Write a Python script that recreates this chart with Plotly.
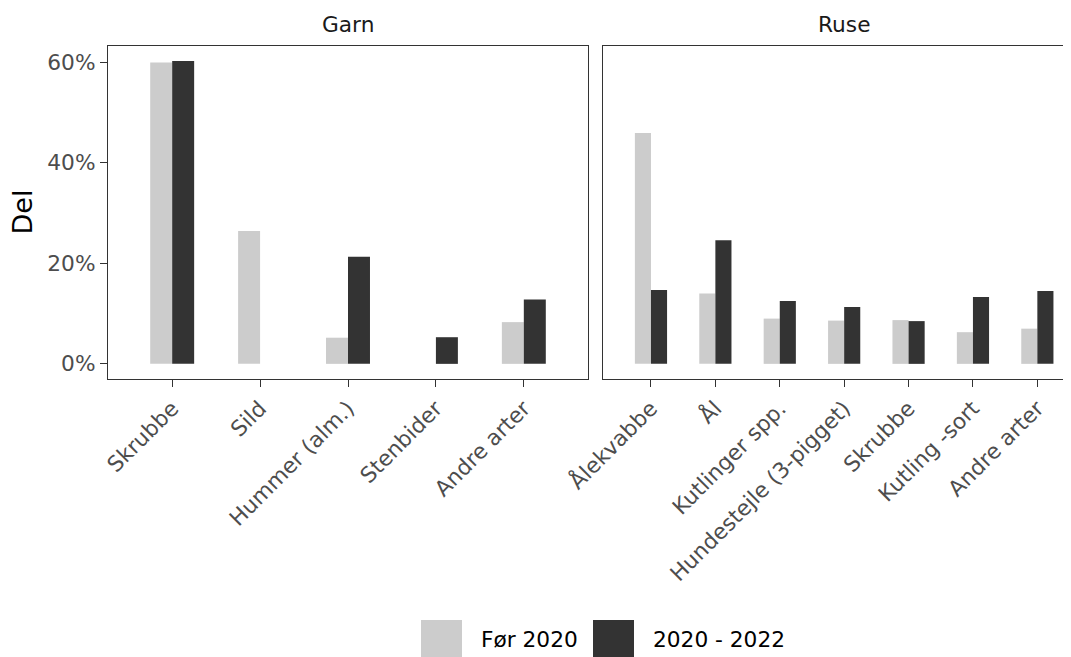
import plotly.graph_objects as go

OFF = 8  # page body margin
RIGHT = 1100  # screen x where the figure ends (the reference is cropped at 1071)
W, H = RIGHT - OFF, 657 - OFF

# ---- data ----
garn_cats = ["Skrubbe", "Sild", "Hummer (alm.)", "Stenbider", "Andre arter"]
garn_before = [0.599, 0.264, 0.052, None, 0.083]
garn_after = [0.602, None, 0.213, 0.053, 0.128]

ruse_cats = ["Ålekvabbe", "Ål", "Kutlinger spp.", "Hundestejle (3-pigget)",
             "Skrubbe", "Kutling -sort", "Andre arter"]
ruse_before = [0.459, 0.140, 0.090, 0.086, 0.087, 0.063, 0.070]
ruse_after = [0.147, 0.246, 0.125, 0.113, 0.085, 0.133, 0.145]

series_names = ["Før 2020", "2020 - 2022"]
facet_names = ["Garn", "Ruse"]
colors = ["#CCCCCC", "#333333"]

FONT = "DejaVu Sans"
SMALL = 21.7
BASE = 27

fig = go.Figure()

def add_bars(cats, before, after, xa, ya):
    for vals, name, col, off in [(before, series_names[0], colors[0], -0.25),
                                 (after, series_names[1], colors[1], 0.0)]:
        fig.add_trace(go.Bar(
            x=cats, y=vals, name=name, xaxis=xa, yaxis=ya,
            marker=dict(color=col, line=dict(width=0)),
            width=0.25, offset=off, showlegend=False,
        ))

add_bars(garn_cats, garn_before, garn_after, "x", "y")
add_bars(ruse_cats, ruse_before, ruse_after, "x2", "y2")

def px_x(p):
    return (p - OFF) / W

def px_y(p):
    return 1 - (p - OFF) / H

line_col = "#333333"
common_x = dict(type="category", showgrid=False, zeroline=False, showline=True,
                linecolor=line_col, linewidth=1.3, ticks="outside", ticklen=7,
                tickwidth=1.3, tickcolor=line_col, tickangle=-45,
                tickfont=dict(family=FONT, size=SMALL, color="#4D4D4D"),
                automargin=False, fixedrange=True)

yr = [-0.0301, 0.632]
fig.update_layout(
    width=W, height=H,
    margin=dict(l=0, r=0, t=0, b=0),
    paper_bgcolor="white", plot_bgcolor="white",
    barmode="overlay",
    xaxis=dict(common_x, domain=[px_x(108), px_x(588)], range=[-0.73, 4.73],
               mirror=True, anchor="y"),
    xaxis2=dict(common_x, domain=[px_x(603), px_x(1085)], range=[-0.745, 6.74],
                mirror=True, anchor="y2"),
    yaxis=dict(domain=[px_y(379), px_y(46)], range=yr, showgrid=False,
               zeroline=False, showline=True, mirror=True, linecolor=line_col,
               linewidth=1.3, ticks="outside", ticklen=7, tickwidth=1.3,
               tickcolor=line_col, tickvals=[0, 0.2, 0.4, 0.6],
               tickformat=".0%",
               tickfont=dict(family=FONT, size=SMALL, color="#4D4D4D"),
               automargin=False, anchor="x"),
    yaxis2=dict(domain=[px_y(379), px_y(46)], range=yr, showgrid=False,
                zeroline=False, showline=True, mirror=True,
                linecolor=line_col, linewidth=1.3, showticklabels=False,
                ticks="", anchor="x2", matches="y"),
    font=dict(family=FONT),
)

ann = []
# strip labels
ann.append(dict(text=facet_names[0], x=px_x(348), y=px_y(25), xref="paper", yref="paper",
                showarrow=False, font=dict(family=FONT, size=SMALL, color="#1A1A1A"),
                xanchor="center", yanchor="middle"))
ann.append(dict(text=facet_names[1], x=px_x(844), y=px_y(25), xref="paper", yref="paper",
                showarrow=False, font=dict(family=FONT, size=SMALL, color="#1A1A1A"),
                xanchor="center", yanchor="middle"))
# y title
ann.append(dict(text="Del", x=px_x(21.5), y=px_y(212), xref="paper", yref="paper",
                showarrow=False, textangle=-90,
                font=dict(family=FONT, size=BASE, color="black"),
                xanchor="center", yanchor="middle"))

# manual legend
shapes = []
leg = [(421, 462, 479, series_names[0], colors[0]),
       (593, 634, 651, series_names[1], colors[1])]
for x0, x1, tx, name, col in leg:
    shapes.append(dict(type="rect", xref="paper", yref="paper",
                       x0=px_x(x0), x1=px_x(x1), y0=0, y1=px_y(620),
                       fillcolor=col, line=dict(width=0)))
    ann.append(dict(text=name, x=px_x(tx), y=px_y(639), xref="paper", yref="paper",
                    showarrow=False, xanchor="left", yanchor="middle",
                    font=dict(family=FONT, size=SMALL, color="black")))

fig.update_layout(annotations=ann, shapes=shapes)

fig.write_html("out.html")
